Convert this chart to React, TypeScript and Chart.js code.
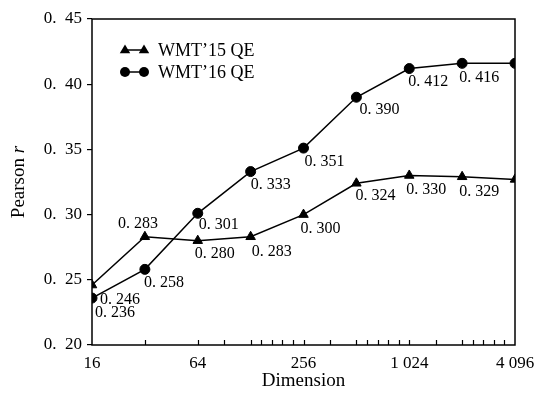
import React, { useEffect, useRef } from "react";
import { Chart, registerables } from "chart.js";

Chart.register(...registerables);

const dimensions = [16, 32, 64, 128, 256, 512, 1024, 2048, 4096];
const wmt15 = [0.246, 0.283, 0.28, 0.283, 0.3, 0.324, 0.33, 0.329, 0.327];
const wmt16 = [0.236, 0.258, 0.301, 0.333, 0.351, 0.39, 0.412, 0.416, 0.416];
const seriesNames = ["WMT\u201915 QE", "WMT\u201916 QE"];
const xTickValues = [16, 64, 256, 1024, 4096];
const xTickLabels = ["16", "64", "256", "1 024", "4 096"];
const xMinorTicks = [
  32, 64, 64 * Math.SQRT2, 128,
  128 * 2 ** 0.2, 128 * 2 ** 0.4, 128 * 2 ** 0.6, 128 * 2 ** 0.8, 256,
  256 * Math.SQRT2, 512,
  512 * 2 ** 0.2, 512 * 2 ** 0.4, 512 * 2 ** 0.6, 512 * 2 ** 0.8, 1024,
  1024 * Math.SQRT2, 2048,
  2048 * 2 ** 0.2, 2048 * 2 ** 0.4, 2048 * 2 ** 0.6, 2048 * 2 ** 0.8,
];
// label offsets (dx, dy) per point; null = no label
const labelOffsets15: ([number, number] | null)[] = [
  [8, 15], [-27, -13], [-3, 13], [1, 15], [-3, 14], [-1, 12], [-3, 14], [-3, 15], null,
];
const labelOffsets16: ([number, number] | null)[] = [
  [3, 15], [-1, 13], [1, 12], [0, 13], [1, 14], [3, 13], [-1, 13], [-3, 14], null,
];

const SERIF = "'Liberation Serif', 'Times New Roman', serif";
const fmt = (v: number, d: number) => v.toFixed(d).replace(".", ". ");
const fmtTick = (v: number, d: number) => v.toFixed(d).replace(".", ".\u2002");

function drawMarker(ctx: CanvasRenderingContext2D, style: string, x: number, y: number) {
  ctx.beginPath();
  if (style === "triangle") {
    const r = 5.5;
    ctx.moveTo(x, y - r);
    ctx.lineTo(x + r * 0.95, y + r * 0.6);
    ctx.lineTo(x - r * 0.95, y + r * 0.6);
    ctx.closePath();
  } else {
    ctx.arc(x, y, 5, 0, Math.PI * 2);
  }
  ctx.fillStyle = "#000";
  ctx.fill();
}

const clipPlugin = {
  id: "clipArea",
  beforeDatasetsDraw(chart: any) {
    const a = chart.chartArea;
    const ctx = chart.ctx;
    ctx.save();
    ctx.beginPath();
    ctx.rect(a.left, a.top - 10, a.right - a.left, a.bottom - a.top + 20);
    ctx.clip();
  },
  afterDatasetsDraw(chart: any) {
    chart.ctx.restore();
  },
};

const decorPlugin = {
  id: "decor",
  afterDatasetsDraw(chart: any) {
    const { ctx, chartArea: a, scales } = chart;
    const xs = scales.x;
    ctx.save();
    // box
    ctx.strokeStyle = "#000";
    ctx.lineWidth = 1.5;
    ctx.strokeRect(a.left, a.top, a.right - a.left, a.bottom - a.top);
    // inward minor ticks on x axis
    ctx.lineWidth = 1.2;
    ctx.beginPath();
    for (const v of xMinorTicks) {
      const px = Math.round(xs.getPixelForValue(v)) + 0.5;
      ctx.moveTo(px, a.bottom);
      ctx.lineTo(px, a.bottom - 5);
    }
    ctx.stroke();

    // data labels
    ctx.fillStyle = "#000";
    ctx.font = `16px ${SERIF}`;
    ctx.textAlign = "left";
    ctx.textBaseline = "middle";
    const offs = [labelOffsets15, labelOffsets16];
    chart.data.datasets.forEach((ds: any, di: number) => {
      const meta = chart.getDatasetMeta(di);
      meta.data.forEach((pt: any, i: number) => {
        const o = offs[di][i];
        if (!o) return;
        ctx.fillText(fmt(ds.data[i].y, 3), pt.x + o[0], pt.y + o[1]);
      });
    });

    // legend
    const lx = a.left + 33;
    const ly = [a.top + 31, a.top + 53];
    chart.data.datasets.forEach((ds: any, di: number) => {
      const y = ly[di];
      ctx.strokeStyle = "#000";
      ctx.lineWidth = 1.5;
      ctx.beginPath();
      ctx.moveTo(lx, y);
      ctx.lineTo(lx + 19, y);
      ctx.stroke();
      drawMarker(ctx, ds.pointStyle, lx, y);
      drawMarker(ctx, ds.pointStyle, lx + 19, y);
      ctx.font = `18px ${SERIF}`;
      ctx.fillStyle = "#000";
      ctx.textAlign = "left";
      ctx.textBaseline = "middle";
      ctx.fillText(ds.label, a.left + 66, y + 1);
    });

    // y title
    ctx.save();
    ctx.translate(19, (a.top + a.bottom) / 2);
    ctx.rotate(-Math.PI / 2);
    ctx.font = `19px ${SERIF}`;
    const t1 = "Pearson ";
    const w1 = ctx.measureText(t1).width;
    ctx.font = `italic 19px ${SERIF}`;
    const w2 = ctx.measureText("r").width;
    const start = -(w1 + w2) / 2;
    ctx.textAlign = "left";
    ctx.textBaseline = "middle";
    ctx.font = `19px ${SERIF}`;
    ctx.fillText(t1, start, 0);
    ctx.font = `italic 19px ${SERIF}`;
    ctx.fillText("r", start + w1, 0);
    ctx.restore();
    ctx.restore();
  },
};

export default function App() {
  const ref = useRef<HTMLCanvasElement>(null);
  useEffect(() => {
    document.body.style.margin = "0";
    const chart = new Chart(ref.current!, {
      type: "line",
      data: {
        datasets: [
          {
            label: seriesNames[0],
            data: dimensions.map((d, i) => ({ x: d, y: wmt15[i] })),
            borderColor: "#000",
            backgroundColor: "#000",
            borderWidth: 1.5,
            pointStyle: "triangle",
            pointRadius: 5.5,
            pointBorderWidth: 1,
            pointBackgroundColor: "#000",
            pointBorderColor: "#000",
            tension: 0,
            clip: 0,
          },
          {
            label: seriesNames[1],
            data: dimensions.map((d, i) => ({ x: d, y: wmt16[i] })),
            borderColor: "#000",
            backgroundColor: "#000",
            borderWidth: 1.5,
            pointStyle: "circle",
            pointRadius: 5,
            pointBorderWidth: 1,
            pointBackgroundColor: "#000",
            pointBorderColor: "#000",
            tension: 0,
            clip: 0,
          },
        ],
      },
      options: {
        animation: false,
        responsive: false,
        layout: { padding: { top: 19, right: 20, left: 0, bottom: 6 } },
        plugins: { legend: { display: false }, tooltip: { enabled: false } },
        scales: {
          x: {
            type: "logarithmic",
            min: 16,
            max: 4096,
            afterBuildTicks: (s: any) => {
              s.ticks = xTickValues.map((v) => ({ value: v }));
            },
            afterFit: (s: any) => {
              s.height = 47;
              s.paddingLeft = 0;
              s.paddingRight = 0;
            },
            ticks: {
              autoSkip: false,
              maxRotation: 0,
              minRotation: 0,
              padding: 0,
              color: "#000",
              font: { family: SERIF, size: 17 },
              callback: (_v: any, i: number) => xTickLabels[i],
            },
            grid: { display: false },
            border: { display: false },
            title: {
              display: true,
              text: "Dimension",
              color: "#000",
              font: { family: SERIF, size: 19 },
              padding: { top: 0, bottom: 0 },
            },
          },
          y: {
            type: "linear",
            min: 0.2,
            max: 0.45,
            afterFit: (s: any) => {
              s.width = 92;
              s.paddingTop = 0;
              s.paddingBottom = 0;
            },
            ticks: {
              stepSize: 0.05,
              padding: 5,
              color: "#000",
              font: { family: SERIF, size: 17 },
              callback: (v: any) => fmtTick(Number(v), 2),
            },
            grid: {
              drawOnChartArea: false,
              drawTicks: true,
              tickLength: 5,
              color: "#000",
              lineWidth: 1.2,
            },
            border: { display: false },
          },
        },
      },
      plugins: [clipPlugin, decorPlugin],
    });
    return () => chart.destroy();
  }, []);
  return <canvas ref={ref} width={535} height={398} style={{ display: "block" }} />;
}
